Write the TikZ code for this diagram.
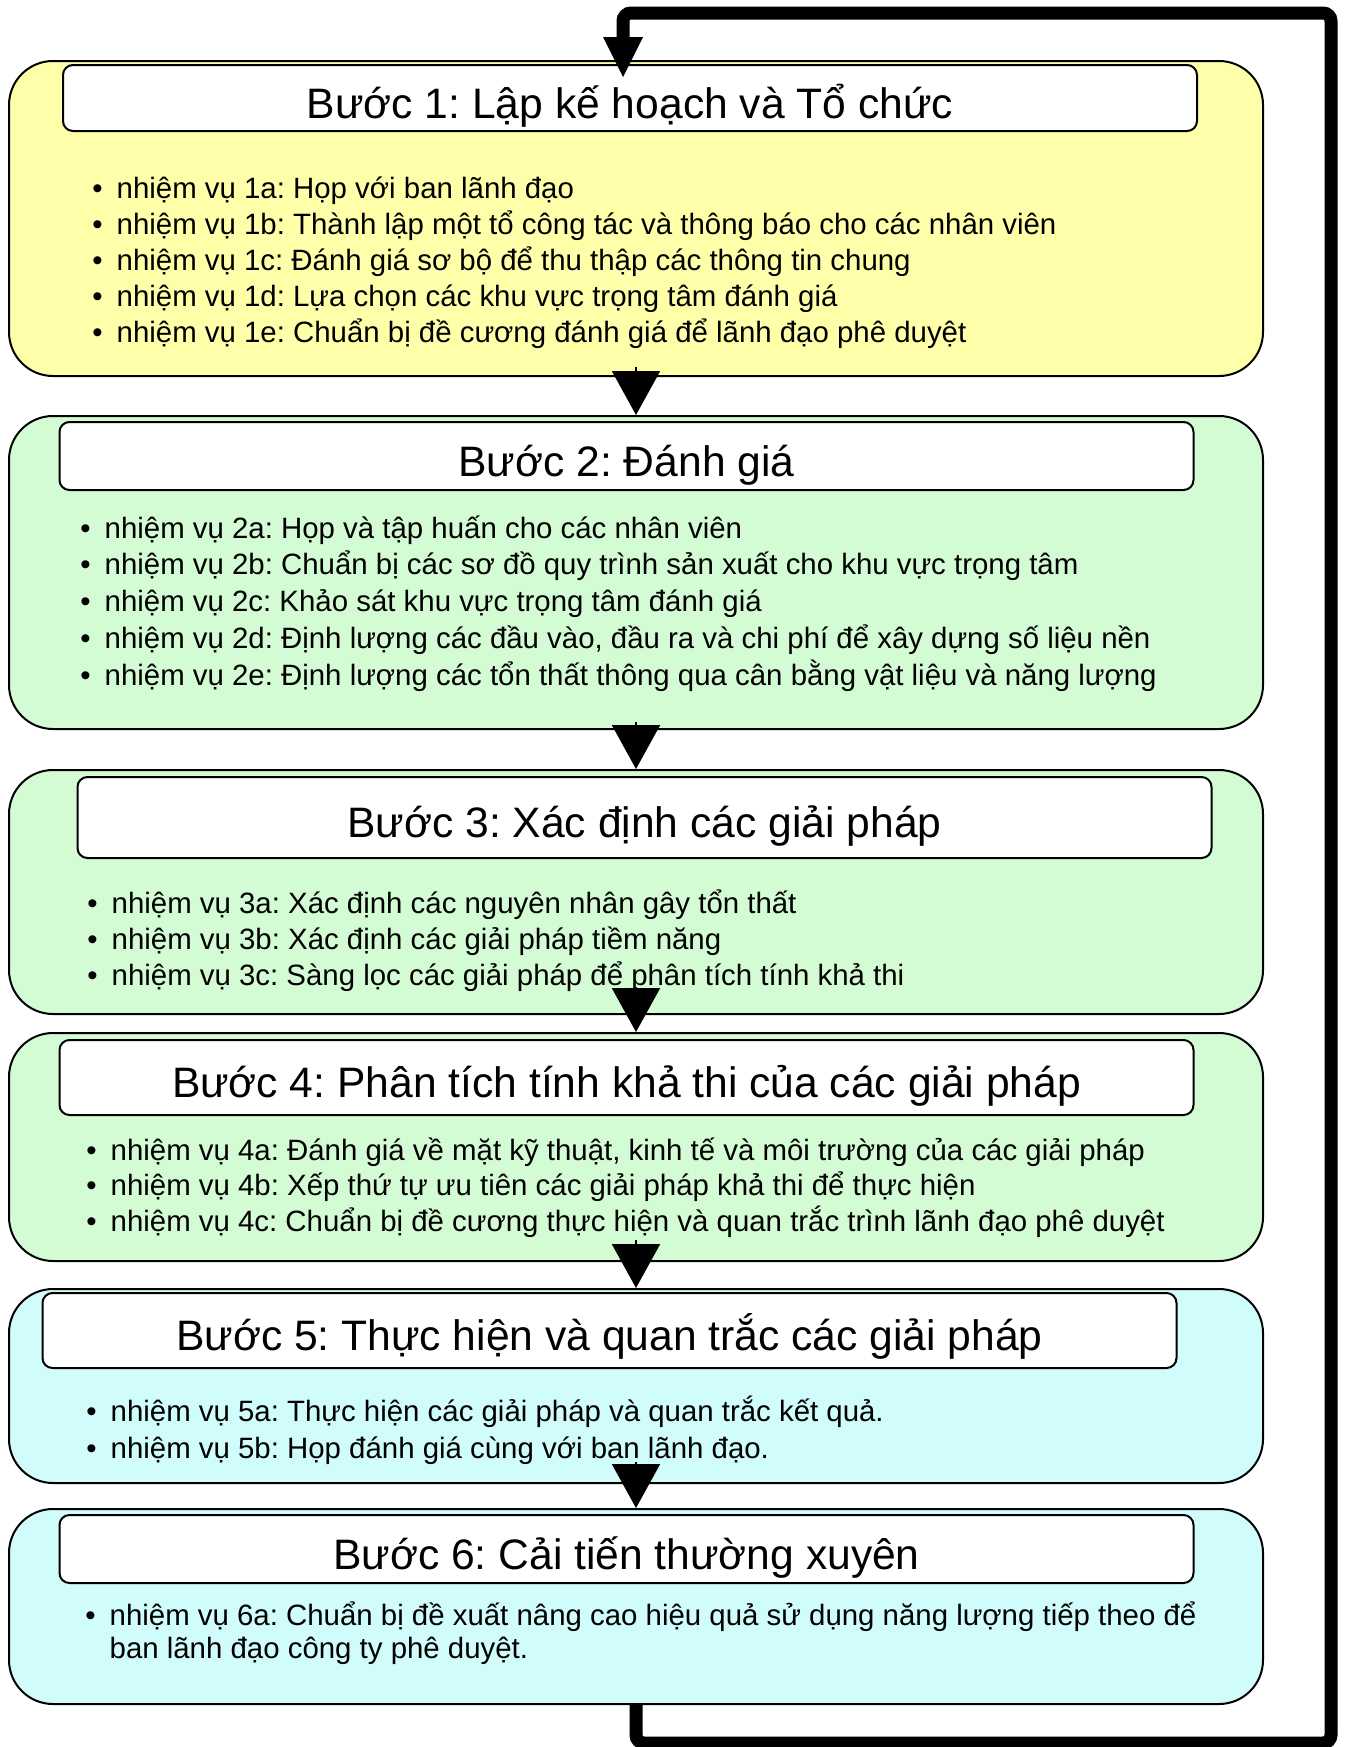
\documentclass[tikz,border=0pt]{standalone}
\usepackage{fontspec}
\setmainfont{Liberation Sans}
\usetikzlibrary{arrows.meta,positioning}
\definecolor{planbg}{RGB}{255,255,170}
\definecolor{evalbg}{RGB}{212,252,212}
\definecolor{implbg}{RGB}{208,252,252}
\newcommand{\task}[1]{\textbullet\hspace{7pt}#1}
\frenchspacing
\tikzset{
  stepbox/.style={draw, line width=1pt, rounded corners=22pt, minimum width=627pt},
  titlebox/.style={draw, fill=white, line width=1pt, rounded corners=5pt, minimum width=567pt,
    font=\fontsize{21.3}{25}\selectfont, text height=20pt, text depth=0pt},
  task/.style={anchor=base west, inner sep=0pt, font=\fontsize{14.7}{18}\selectfont},
  flow/.style={-{Triangle[width=24pt,length=22pt]}, line width=1pt},
  loopback/.style={-{Triangle[width=20pt,length=20pt,line width=0pt]}, line width=6.5pt, rounded corners=4pt}
}
\begin{document}
\begin{tikzpicture}[x=0.5pt,y=-0.5pt]
  \useasboundingbox (0,0) rectangle (1346,1747);
  % step boxes
  \node[stepbox, fill=planbg, minimum height=157.5pt] (s1) at (636,218.5) {};
  \node[stepbox, fill=evalbg, minimum height=156.5pt] (s2) at (636,572.5) {};
  \node[stepbox, fill=evalbg, minimum height=122pt] (s3) at (636,892) {};
  \node[stepbox, fill=evalbg, minimum height=114pt] (s4) at (636,1147) {};
  \node[stepbox, fill=implbg, minimum height=97pt] (s5) at (636,1386) {};
  \node[stepbox, fill=implbg, minimum height=97.5pt] (s6) at (636,1606.5) {};
  % titles
  \node[titlebox, minimum height=33pt] (t1) at (630,98) {Bước 1: Lập kế hoạch và Tổ chức};
  \node[titlebox, minimum height=34pt] (t2) at (626.5,456) {Bước 2: Đánh giá};
  \node[titlebox, minimum height=40.5pt] (t3) at (644.5,817.5) {Bước 3: Xác định các giải pháp};
  \node[titlebox, minimum height=37.5pt] (t4) at (626.5,1077.5) {Bước 4: Phân tích tính khả thi của các giải pháp};
  \node[titlebox, minimum height=37.5pt] (t5) at (609.5,1330.5) {Bước 5: Thực hiện và quan trắc các giải pháp};
  \node[titlebox, minimum height=34pt] (t6) at (626.5,1549) {Bước 6: Cải tiến thường xuyên};
  % tasks
  \foreach \t [count=\i from 0] in {{nhiệm vụ 1a: Họp với ban lãnh đạo},
      {nhiệm vụ 1b: Thành lập một tổ công tác và thông báo cho các nhân viên},
      {nhiệm vụ 1c: Đánh giá sơ bộ để thu thập các thông tin chung},
      {nhiệm vụ 1d: Lựa chọn các khu vực trọng tâm đánh giá},
      {nhiệm vụ 1e: Chuẩn bị đề cương đánh giá để lãnh đạo phê duyệt}}
    \node[task] (l1-\i) at (92,{198+36*\i}) {\task{\t}};
  \foreach \t [count=\i from 0] in {{nhiệm vụ 2a: Họp và tập huấn cho các nhân viên},
      {nhiệm vụ 2b: Chuẩn bị các sơ đồ quy trình sản xuất cho khu vực trọng tâm},
      {nhiệm vụ 2c: Khảo sát khu vực trọng tâm đánh giá},
      {nhiệm vụ 2d: Định lượng các đầu vào, đầu ra và chi phí để xây dựng số liệu nền},
      {nhiệm vụ 2e: Định lượng các tổn thất thông qua cân bằng vật liệu và năng lượng}}
    \node[task] (l2-\i) at (80,{538+36.75*\i}) {\task{\t}};
  \foreach \t [count=\i from 0] in {{nhiệm vụ 3a: Xác định các nguyên nhân gây tổn thất},
      {nhiệm vụ 3b: Xác định các giải pháp tiềm năng},
      {nhiệm vụ 3c: Sàng lọc các giải pháp để phân tích tính khả thi}}
    \node[task] (l3-\i) at (87,{913+36*\i}) {\task{\t}};
  \foreach \t [count=\i from 0] in {{nhiệm vụ 4a: Đánh giá về mặt kỹ thuật, kinh tế và môi trường của các giải pháp},
      {nhiệm vụ 4b: Xếp thứ tự ưu tiên các giải pháp khả thi để thực hiện},
      {nhiệm vụ 4c: Chuẩn bị đề cương thực hiện và quan trắc trình lãnh đạo phê duyệt}}
    \node[task] (l4-\i) at (86,{1160+35.5*\i}) {\task{\t}};
  \foreach \t [count=\i from 0] in {{nhiệm vụ 5a: Thực hiện các giải pháp và quan trắc kết quả.},
      {nhiệm vụ 5b: Họp đánh giá cùng với ban lãnh đạo.}}
    \node[task] (l5-\i) at (86,{1421+37*\i}) {\task{\t}};
  \node[task] (l6-0) at (85,1625) {\task{nhiệm vụ 6a: Chuẩn bị đề xuất nâng cao hiệu quả sử dụng năng lượng tiếp theo để}};
  \node[task] (l6-1) at (85,1658) {\phantom{\task{}}ban lãnh đạo công ty phê duyệt.};
  % arrows
  \draw[flow] ([yshift=5pt]s1.south) -- (s2.north);
  \draw[flow] ([yshift=4pt]s2.south) -- (s3.north);
  \draw[flow] ([yshift=14pt]s3.south) -- (s4.north);
  \draw[flow] ([yshift=11pt]s4.south) -- (s5.north);
  \draw[flow] ([yshift=11pt]s5.south) -- (s6.north);
  \coordinate (corner) at (1331,13);
  \coordinate (entry) at (623,77);
  \draw[loopback] (s6.south) -- ++(0,38) -| (corner) -| (entry);
\end{tikzpicture}
\end{document}
